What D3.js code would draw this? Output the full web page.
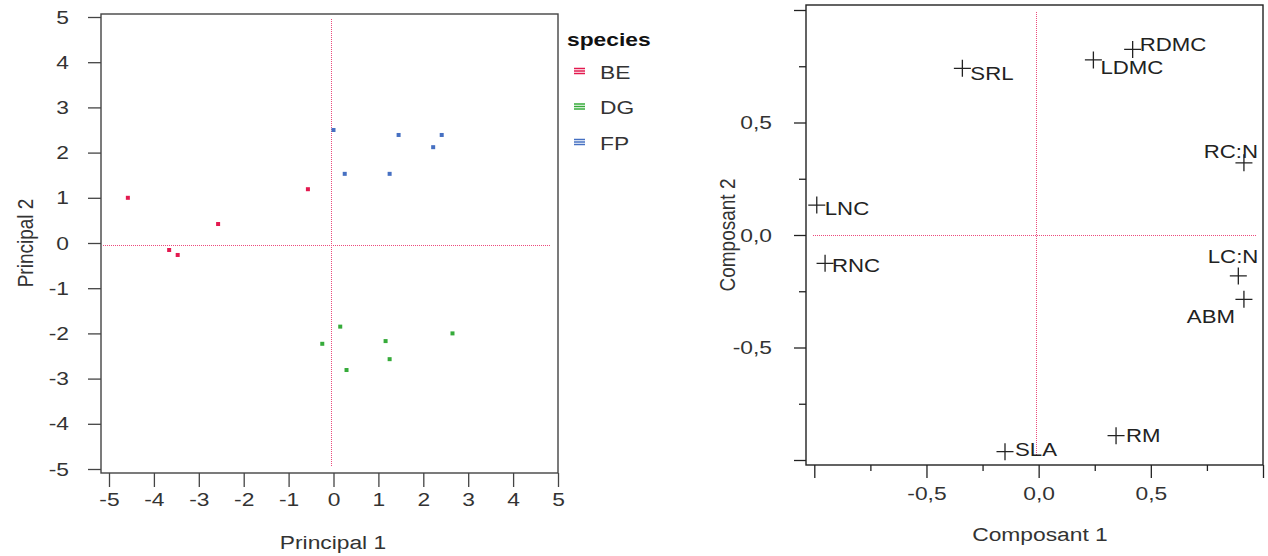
<!DOCTYPE html>
<html><head><meta charset="utf-8">
<script src="https://cdn.jsdelivr.net/npm/d3@7"></script>
<style>html,body{margin:0;padding:0;background:#fff;} svg{display:block;}</style>
</head><body>
<svg id="c" width="1268" height="556"></svg>
<script>
// ---------- data: left panel (individuals) ----------
const speciesNames = ["BE", "DG", "FP"];
const beX = [-4.58, -3.66, -3.47, -2.57, -0.57];
const beY = [1.0, -0.155, -0.265, 0.42, 1.19];
const dgX = [-0.25, 0.15, 0.29, 1.16, 1.25, 2.65];
const dgY = [-2.23, -1.85, -2.81, -2.17, -2.57, -2.0];
const fpX = [0.0, 1.45, 2.41, 2.22, 0.25, 1.25];
const fpY = [2.5, 2.39, 2.39, 2.12, 1.53, 1.53];
const leftTicks = [-5, -4, -3, -2, -1, 0, 1, 2, 3, 4, 5];
const leftRefX = -0.05, leftRefY = -0.05;

// ---------- data: right panel (variables) ----------
const varNames = ["SRL", "LDMC", "RDMC", "RC:N", "LC:N", "ABM", "LNC", "RNC", "SLA", "RM"];
const comp1 = [-0.34, 0.244, 0.419, 0.915, 0.89, 0.915, -0.989, -0.952, -0.15, 0.345];
const comp2 = [0.741, 0.778, 0.825, 0.321, -0.182, -0.286, 0.133, -0.126, -0.963, -0.892];
const rightMajorTicks = [-1, -0.5, 0, 0.5, 1];
const rightMinorTicks = [-0.75, -0.25, 0.25, 0.75];
const rightLabelledTicks = [-0.5, 0, 0.5];
const rightRefX = -0.01, rightRefY = 0;

// ---------- styles ----------
const FONT = "'Liberation Sans', Arial, Helvetica, sans-serif";
const SX = 1.2;           // horizontal text stretch seen in the reference
const colors = {BE: "#e3194f", DG: "#36ab3a", FP: "#4670c2"};
const refColor = "#ec4a7c";
const txt = "#333";

// label placements relative to each cross
const labelPlace = {
  "SRL": ["start", 8, 5], "LDMC": ["start", 7, 8], "RDMC": ["start", 7, -5],
  "RC:N": ["end", 14, -11], "LC:N": ["end", 20, -19.5], "ABM": ["end", -9, 17],
  "LNC": ["start", 8, 3], "RNC": ["start", 7, 2], "SLA": ["start", 10, -2], "RM": ["start", 10, 0]
};

const svg = d3.select("#c");
const half = v => Math.round(v) + 0.5;

function addText(parent, x, y, str, o = {}) {
  const g = parent.append("g")
    .attr("transform", `translate(${x},${y}) scale(${SX},1)` + (o.rotate ? " rotate(-90)" : ""));
  return g.append("text")
    .attr("text-anchor", o.anchor || "middle")
    .attr("dy", o.dy == null ? "0.35em" : o.dy)
    .attr("font-family", FONT)
    .attr("font-size", o.size || 19)
    .attr("font-weight", o.weight || "normal")
    .attr("fill", o.fill || txt)
    .text(str);
}

function stretchAxisText(axisG, kind) {
  axisG.selectAll("text").each(function () {
    const t = d3.select(this);
    if (kind === "left") t.attr("x", +t.attr("x") / SX);
    t.attr("transform", `scale(${SX},1)`);
  });
}

function refLines(g, xs, ys, hx1, hx2, hy, vx, vy1, vy2) {
  g.append("line").attr("x1", Math.round(xs(hx1))).attr("x2", Math.round(xs(hx2)))
    .attr("y1", half(ys(hy))).attr("y2", half(ys(hy)))
    .attr("stroke", refColor).attr("stroke-width", 1).attr("stroke-dasharray", "1,1");
  g.append("line").attr("x1", half(xs(vx))).attr("x2", half(xs(vx)))
    .attr("y1", Math.round(ys(vy1))).attr("y2", Math.round(ys(vy2)))
    .attr("stroke", refColor).attr("stroke-width", 1).attr("stroke-dasharray", "1,1");
}

// ================= LEFT PANEL =================
const L = {left: 101, right: 558, top: 14, bottom: 473};
const lx = d3.scaleLinear().domain([-5, 5]).range([109, 558]);
const ly = d3.scaleLinear().domain([-5, 5]).range([469, 17]);
const gl = svg.append("g");

gl.append("rect").attr("x", L.left).attr("y", L.top)
  .attr("width", L.right - L.left).attr("height", L.bottom - L.top)
  .attr("fill", "none").attr("stroke", "#444").attr("stroke-width", 1.4);

const lyAxis = gl.append("g").attr("transform", `translate(${L.left},0)`)
  .call(d3.axisLeft(ly).tickValues(leftTicks).tickSize(13).tickPadding(19).tickFormat(d3.format("d")));
const lxAxis = gl.append("g").attr("transform", `translate(0,${L.bottom})`)
  .call(d3.axisBottom(lx).tickValues(leftTicks).tickSize(14).tickPadding(6).tickFormat(d3.format("d")));
[lyAxis, lxAxis].forEach(a => {
  a.select(".domain").remove();
  a.selectAll("line").attr("stroke", "#444").attr("stroke-width", 1.3);
  a.selectAll("text").attr("font-family", FONT).attr("font-size", 19).attr("fill", txt)
    .text(d => d < 0 ? "-" + Math.abs(d) : d);
});
stretchAxisText(lyAxis, "left");
stretchAxisText(lxAxis, "bottom");

refLines(gl, lx, ly, -5.13, 4.85, leftRefY, leftRefX, 4.95, -4.95);

// points
const groups = [
  {name: "BE", xs: beX, ys: beY},
  {name: "DG", xs: dgX, ys: dgY},
  {name: "FP", xs: fpX, ys: fpY}
];
groups.forEach(gr => {
  gl.append("g").selectAll("rect").data(gr.xs.map((x, i) => [x, gr.ys[i]])).join("rect")
    .attr("x", d => lx(d[0]) - 2).attr("y", d => ly(d[1]) - 2)
    .attr("width", 4).attr("height", 4).attr("fill", colors[gr.name]);
});

// axis titles
addText(gl, 333, 549, "Principal 1", {dy: 0});
addText(gl, 33, 243, "Principal 2", {dy: 0, rotate: true});

// legend
addText(gl, 567, 46, "species", {anchor: "start", dy: 0, weight: "bold", fill: "#111"});
speciesNames.forEach((s, i) => {
  const cy = 71 + i * 35.5;
  [-2.5, 0, 2.5].forEach(o => {
    gl.append("line").attr("x1", 574).attr("x2", 585).attr("y1", cy + o).attr("y2", cy + o)
      .attr("stroke", colors[s]).attr("stroke-width", 1.5);
  });
  addText(gl, 600, cy + 1, s, {anchor: "start"});
});

// ================= RIGHT PANEL =================
const R = {left: 806, right: 1263, top: 5, bottom: 465};
const rx = d3.scaleLinear().domain([-1, 1]).range([814.3, 1263]);
const ry = d3.scaleLinear().domain([-1, 1]).range([460, 10]);
const gr = svg.append("g");

gr.append("rect").attr("x", R.left).attr("y", R.top)
  .attr("width", R.right - R.left).attr("height", R.bottom - R.top)
  .attr("fill", "none").attr("stroke", "#222").attr("stroke-width", 1.4);

const fmtComma = d => rightLabelledTicks.includes(d) ? d3.format(".1f")(d).replace(".", ",").replace("−", "-") : "";
const ryAxis = gr.append("g").attr("transform", `translate(${R.left},0)`)
  .call(d3.axisLeft(ry).tickValues(rightMajorTicks).tickSize(12).tickPadding(22).tickFormat(fmtComma));
const ryMinor = gr.append("g").attr("transform", `translate(${R.left},0)`)
  .call(d3.axisLeft(ry).tickValues(rightMinorTicks).tickSize(7).tickFormat(""));
const rxAxis = gr.append("g").attr("transform", `translate(0,${R.bottom})`)
  .call(d3.axisBottom(rx).tickValues(rightMajorTicks).tickSize(13).tickPadding(9).tickFormat(fmtComma));
const rxMinor = gr.append("g").attr("transform", `translate(0,${R.bottom})`)
  .call(d3.axisBottom(rx).tickValues(rightMinorTicks).tickSize(6).tickFormat(""));
[ryAxis, ryMinor, rxAxis, rxMinor].forEach(a => {
  a.select(".domain").remove();
  a.selectAll("line").attr("stroke", "#222").attr("stroke-width", 1.3);
  a.selectAll("text").attr("font-family", FONT).attr("font-size", 19).attr("fill", txt);
});
stretchAxisText(ryAxis, "left");
stretchAxisText(rxAxis, "bottom");

refLines(gr, rx, ry, -1.006, 0.972, rightRefY, rightRefX, 0.99, -0.978);

// crosses + labels
const arm = 8.5;
varNames.forEach((n, i) => {
  const cx = rx(comp1[i]), cy = ry(comp2[i]);
  gr.append("path").attr("d", `M${cx - arm},${cy}H${cx + arm}M${cx},${cy - arm}V${cy + arm}`)
    .attr("stroke", "#222").attr("stroke-width", 1.3).attr("fill", "none");
  const p = labelPlace[n];
  addText(gr, cx + p[1], cy + p[2], n, {anchor: p[0], size: 18.5, fill: "#222"});
});

addText(gr, 1040, 541, "Composant 1", {dy: 0});
addText(gr, 735, 235, "Composant 2", {dy: 0, rotate: true});
</script>
</body></html>
